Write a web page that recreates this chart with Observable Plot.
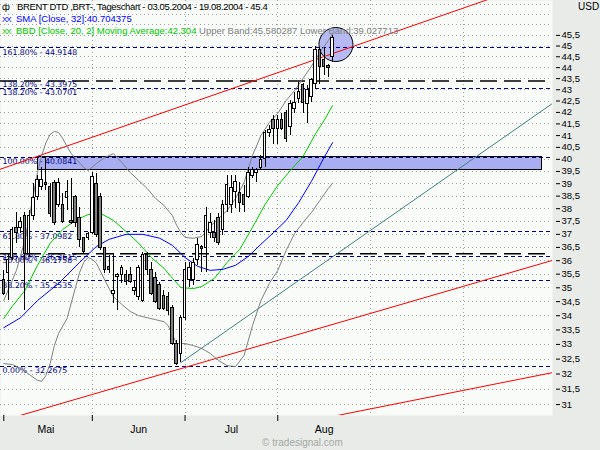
<!DOCTYPE html>
<html><head><meta charset="utf-8">
<script src="https://cdn.jsdelivr.net/npm/d3@7"></script>
<script src="https://cdn.jsdelivr.net/npm/@observablehq/plot@0.6"></script>
<style>
body{margin:0;background:#e8ebe8;}
#wrap{position:relative;width:600px;height:450px;overflow:hidden;}
#chart svg{display:block;}
.ov{position:absolute;white-space:nowrap;font-family:'Liberation Sans',Arial,sans-serif;font-size:9.5px;line-height:12px;}
</style></head><body>
<div id="wrap"><div id="chart"></div>
<div class="ov" style="left:2px;top:1px;color:#000;letter-spacing:-0.35px"><span style="display:inline-block;width:15px">ф</span>BRENT DTD ,BRT-, Tageschart - 03.05.2004 - 19.08.2004 - 45.4</div>
<div class="ov" style="left:2px;top:13px;color:#0000ff"><span style="display:inline-block;width:14px;letter-spacing:-1px;font-size:8px">XX</span>SMA [Close, 32]:40.704375</div>
<div class="ov" style="left:2px;top:25px;color:#00c800"><span style="display:inline-block;width:14px;letter-spacing:-1px;font-size:8px">XX</span>BBD [Close, 20, 2] Moving Average:42.304<span style="color:#808080"> Upper Band:45.580287 Lower Band:39.027713</span></div>
<div class="ov" style="left:578px;top:1px;color:#000;font-size:10px">USD</div>
<div class="ov" style="left:262px;top:437px;color:#a4a8a4;font-size:10px">© tradesignal.com</div>
</div>
<script>
// ---- candles (trading days 03.05.2004 .. 19.08.2004) ----
const open = [35.27,35.53,36.12,37.23,37.23,37.73,36.27,37.73,38.45,38.85,39.01,38.85,39.01,38.13,38.13,38.41,37.50,38.45,37.65,36.85,36.85,37.07,38.97,38.45,36.47,35.75,34.79,35.38,35.46,35.46,35.46,34.90,34.65,34.54,36.20,35.64,35.35,35.09,34.72,34.65,34.29,33.03,32.69,33.93,35.27,35.27,36.01,36.50,36.47,37.07,37.04,37.65,37.15,38.13,38.13,38.65,38.61,38.53,38.45,39.33,39.42,39.66,40.03,41.09,41.65,41.30,41.69,41.96,41.35,42.17,42.61,43.20,42.39,42.66,43.24,44.80,44.33,44.06,44.47];
const high = [35.64,36.27,37.27,37.85,37.65,37.85,37.93,39.01,39.33,39.66,40.08,39.01,39.13,39.21,38.61,39.13,39.21,38.53,38.05,36.88,37.07,39.46,39.42,38.61,36.50,36.20,36.27,35.53,35.83,35.64,35.75,35.27,35.83,36.31,36.31,35.94,35.57,35.20,34.90,34.83,34.36,33.13,34.00,35.94,35.94,36.09,36.85,36.58,38.05,37.81,37.54,37.81,38.33,39.33,39.33,39.33,39.05,38.93,39.66,39.66,39.62,40.16,41.22,41.43,41.87,41.87,41.96,42.09,42.52,42.88,43.33,43.29,43.20,43.51,44.98,44.94,44.89,44.15,45.50];
const low = [34.72,34.54,36.01,36.66,37.04,34.18,36.12,37.54,38.33,38.73,38.73,37.65,37.35,38.05,37.42,37.93,37.38,37.27,36.50,36.24,36.77,37.00,36.88,36.39,35.53,35.53,34.43,34.18,35.16,35.09,35.16,34.72,34.54,34.47,35.46,34.72,34.43,34.18,34.18,34.00,32.96,32.27,32.38,33.83,35.01,35.09,35.83,35.57,35.57,36.85,36.70,36.58,36.96,37.85,37.81,38.01,37.85,37.85,38.41,39.21,39.05,39.54,39.66,40.92,40.62,40.62,41.22,40.70,41.00,41.96,42.39,41.96,41.52,42.43,43.06,43.24,43.65,43.56,44.24];
const close = [34.79,36.01,37.15,37.07,37.46,36.27,37.73,38.41,39.13,39.13,38.93,37.81,37.42,39.01,37.46,38.65,37.42,37.42,36.77,36.31,37.00,39.29,36.96,36.47,35.64,35.64,34.90,35.46,35.72,35.20,35.20,35.01,35.72,36.20,35.64,34.79,34.47,34.25,34.25,34.18,33.03,32.35,33.93,35.64,35.72,35.90,36.58,36.43,37.73,37.42,36.85,36.66,38.13,38.93,38.81,39.05,38.21,38.13,39.42,39.54,39.54,39.99,41.13,41.22,41.30,41.69,41.30,40.87,42.39,42.43,42.88,42.43,42.97,43.42,44.80,44.01,44.01,43.97,45.40];

// ---- indicators (at sample days) ----
const smaIdx = [0,4,8,13,18,22,25,29,33,37,40,43,46,49,52,55,58,61,64,67,70,73,76,78];
const smaVal = [33.58,33.93,34.54,35.16,35.94,36.54,36.81,37.00,37.00,36.85,36.58,36.12,35.79,35.64,35.68,35.83,36.16,36.62,37.07,37.54,38.25,39.10,40.08,40.70];
const maIdx = [0,2,5,8,11,14,17,20,23,26,29,32,35,38,40,42,45,47,50,53,56,59,62,65,68,71,74,76,78];
const maVal = [33.90,34.33,34.90,35.83,36.66,37.19,37.54,37.77,37.81,37.54,37.11,36.66,36.12,35.72,35.35,35.01,34.97,35.05,35.35,35.94,36.43,37.27,38.17,38.93,39.54,40.12,41.09,41.65,42.30];
const upIdx = [0,3,5,7,8,9,10,11,12,13,14,15,16,17,19,20,22,24,26,28,30,32,34,36,38,40,41,42,43,45,47,49,51,53,55,57,59,61,63,65,67,69,71,73,75,77,78];
const upVal = [34.54,35.64,36.77,38.53,39.46,40.16,40.70,41.05,41.18,41.13,40.87,40.54,40.24,40.03,39.66,39.54,39.83,40.08,40.24,39.87,39.46,39.13,38.81,38.41,38.13,37.73,37.35,37.07,36.88,36.85,36.92,37.31,37.62,37.93,38.41,39.05,40.16,41.00,41.56,41.96,42.52,42.97,43.51,44.07,44.70,45.26,45.58];
const loIdx = [0,2,4,6,8,9,10,11,12,13,15,17,18,19,20,21,22,24,26,28,30,32,34,36,38,39,40,41,43,45,47,49,51,53,55,57,59,61,63,65,67,69,71,73,75,77,78];
const loVal = [32.35,32.32,32.19,31.99,31.79,31.76,31.95,32.35,32.96,33.38,33.90,35.01,35.57,35.94,36.12,36.05,35.90,35.27,34.68,34.40,34.15,34.00,33.93,33.86,33.79,33.65,33.34,33.03,33.03,32.96,32.86,32.69,32.45,32.28,32.25,32.62,33.65,34.54,35.16,35.64,36.39,37.03,37.46,37.85,38.33,38.81,39.03];

// ---- drawing tools ----
const fibNavyPct = ["161.80%","138.20%","100.00%","61.80%","50.00%","38.20%","0.00%"];
const fibNavyVal = [44.9148,43.0701,40.0841,37.0982,36.1758,35.2535,32.2675];
const fibBlackPct = ["138.20%","100.00%"];
const fibBlackVal = [43.3975,36.2615];
const redA = {i:[-1,120], v:[39.58,47.60]};
const redB = {i:[0,131], v:[30.50,36.05]};
const redC = {i:[78,131], v:[30.62,32.07]};
const teal = {i:[42,131], v:[32.38,42.50]};
const zone = {i1:8.0, i2:127.6, v1:40.0841, v2:39.54};
const circ = {i:78.8, v:45.07};

// ---- axes ----
const yTicks = [31,31.5,32,32.5,33,33.5,34,34.5,35,35.5,36,36.5,37,37.5,38,38.5,39,39.5,40,40.5,41,41.5,42,42.5,43,43.5,44,44.5,45,45.5];
const yGrid = yTicks.concat([46,46.5,47]);
const monthStart = [0,21,43,65,87,109];
const monthMid = [10,32,54,76];
const monthNames = ["Mai","Jun","Jul","Aug"];

const candles = open.map((o,i)=>({i, o, h:high[i], l:low[i], c:close[i]}));
const pts = (I,V)=>I.map((i,k)=>({i, v:V[k]}));
const seg = s=>pts(s.i,s.v);
const fibN = fibNavyVal.map((v,k)=>({v, t:`${fibNavyPct[k]} - ${v.toFixed(4)}`}));
const fibB = fibBlackVal.map((v,k)=>({v, t:`${fibBlackPct[k]} - ${v.toFixed(4)}`}));
const navy = "#000080";
const L = {x: "i", y: "v", strokeWidth: 1};
const crisp = {shapeRendering: "crispEdges"};
const lbl = {y: "v", text: "t", frameAnchor: "left", dx: 2, lineAnchor: "top", textAnchor: "start",
  fill: navy, fontSize: 7.8, fontFamily: "'DejaVu Sans', sans-serif"};

const chart = Plot.plot({
  width: 600, height: 450,
  marginTop: 0, marginRight: 48, marginBottom: 35, marginLeft: 0,
  style: {background: "#e8ebe8", fontFamily: "'Liberation Sans', Arial, sans-serif", fontSize: "10px", color: "#000"},
  x: {domain: [-0.783, 130.18], axis: null},
  y: {type: "log", domain: [30.65, 47.18], axis: null},
  marks: [
    Plot.frame({fill: "#f8fbf8", stroke: "none"}),
    Plot.ruleY(yGrid, {stroke: "#a0a4a0", strokeDasharray: "1,3", ...crisp}),
    Plot.ruleX(monthStart.slice(1), {stroke: "#a0a4a0", strokeDasharray: "1,3", ...crisp}),
    Plot.rect([zone], {x1: "i1", x2: "i2", y1: "v1", y2: "v2", fill: "#a9aef2", stroke: "#000", ...crisp}),
    Plot.dot([circ], {x: "i", y: "v", r: 17, fill: "#a9aef2", fillOpacity: 0.85, stroke: "#000", strokeWidth: 1}),
    Plot.ruleY(fibB, {y: "v", stroke: "#000", strokeWidth: 1.5, strokeDasharray: "17,7"}),
    Plot.ruleY(fibN, {y: "v", stroke: navy, strokeDasharray: "4,3", ...crisp}),
    Plot.text(fibB, {...lbl, dy: 0.5}),
    Plot.text(fibN, {...lbl, dy: 1.5}),
    Plot.line(seg(redA), {...L, stroke: "#ff0000", clip: true}),
    Plot.line(seg(redB), {...L, stroke: "#ff0000", clip: true}),
    Plot.line(seg(redC), {...L, stroke: "#ff0000", clip: true}),
    Plot.line(seg(teal), {...L, stroke: "#408080", clip: true}),
    Plot.line(pts(upIdx, upVal), {...L, stroke: "#808080"}),
    Plot.line(pts(loIdx, loVal), {...L, stroke: "#808080"}),
    Plot.line(pts(maIdx, maVal), {...L, stroke: "#00cc00"}),
    Plot.line(pts(smaIdx, smaVal), {...L, stroke: "#0000ff"}),
    Plot.ruleX(candles, {x: "i", y1: "l", y2: "h", stroke: "#000", ...crisp}),
    Plot.rect(candles, {x1: d => d.i - 0.3, x2: d => d.i + 0.3, y1: "o", y2: "c",
      fill: d => d.c < d.o ? "#808080" : "#ffffff", stroke: "#000", ...crisp}),
    Plot.axisY(yTicks, {anchor: "right", tickSize: 4, tickPadding: 2, dx: 3,
      tickFormat: d => String(d).replace(".", ","), fontSize: 9.5}),
    Plot.axisX(monthStart.slice(0, 4), {anchor: "bottom", tickSize: 6, tickFormat: () => ""}),
    Plot.text(monthNames, {x: monthMid, text: d => d, frameAnchor: "bottom", dy: 17, fontSize: 10.5})
  ]
});
document.getElementById("chart").appendChild(chart);
</script></body></html>
